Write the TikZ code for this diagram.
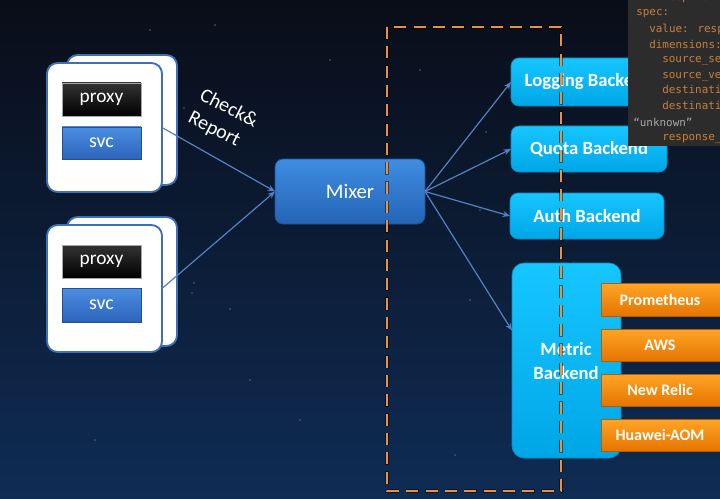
\documentclass[tikz,border=0pt]{standalone}
\usepackage{fontspec}
\setmainfont{Carlito}
\newfontfamily\codefont{DejaVu Sans Mono}
\usetikzlibrary{fit,arrows.meta,calc}
\definecolor{bgtop}{HTML}{090D18}
\definecolor{bgbot}{HTML}{0F2C54}
\definecolor{cardline}{HTML}{3D70B8}
\definecolor{svctop}{HTML}{4C8EE2}
\definecolor{svcbot}{HTML}{2C64BA}
\definecolor{mixtop}{HTML}{3F8DE2}
\definecolor{mixbot}{HTML}{2464B6}
\definecolor{cyantop}{HTML}{16C6FF}
\definecolor{cyanbot}{HTML}{00A6E6}
\definecolor{orgtop}{HTML}{FFA526}
\definecolor{orgbot}{HTML}{E57400}
\definecolor{dashcol}{HTML}{F0913A}
\definecolor{arrowcol}{HTML}{5282C4}
\definecolor{panelcol}{HTML}{2C2C2C}
\definecolor{codecol}{HTML}{C8803C}
\definecolor{codegray}{HTML}{A8A8A8}
\definecolor{starcol}{HTML}{56627A}
\begin{document}
\begin{tikzpicture}[x=0.75pt,y=-0.75pt,
  fitbox/.style={inner sep=0pt,outer sep=0pt},
  card/.style={fitbox,draw=cardline,line width=1.4pt,fill=white,rounded corners=8pt},
  proxybox/.style={fitbox,draw=gray!70,line width=0.6pt,top color=black!80,bottom color=black},
  svcbox/.style={fitbox,draw=svcbot!80!black,line width=0.6pt,top color=svctop,bottom color=svcbot},
  mixerbox/.style={fitbox,draw=mixbot!80!black,line width=0.6pt,top color=mixtop,bottom color=mixbot,rounded corners=6pt},
  backbox/.style={fitbox,top color=cyantop,bottom color=cyanbot,draw=cyanbot!85!black,line width=0.5pt,rounded corners=6pt},
  metricbox/.style={backbox,rounded corners=9pt},
  orangebox/.style={fitbox,top color=orgtop,bottom color=orgbot,draw=orgbot!80!black,line width=0.5pt},
  wtext/.style={inner sep=0pt,text=white},
  proxytext/.style={wtext,font=\fontsize{14.5}{17}\selectfont},
  svctext/.style={wtext,font=\fontsize{15}{17}\selectfont},
  mixertext/.style={wtext,font=\fontsize{15.5}{18}\selectfont},
  backtext/.style={wtext,align=center,font=\bfseries\fontsize{14}{17.5}\selectfont},
  orgtext/.style={wtext,font=\bfseries\fontsize{12}{14}\selectfont},
  conn/.style={draw=arrowcol,line width=0.9pt,-{Stealth[length=5.5pt,width=4.5pt]}},
  dashbox/.style={draw=dashcol,line width=2.2pt,dash pattern=on 9pt off 5.5pt},
  codeline/.style={anchor=west,inner sep=0pt,text=codecol,font=\codefont\fontsize{8.2}{10}\selectfont},
  star/.style={fill=starcol}
]
\useasboundingbox (0,0) rectangle (720,499);
\shade[top color=bgtop,bottom color=bgbot] (0,0) rectangle (720,499);
% stars
\foreach \sx/\sy in {184/108,486/132,194/283,192/293,230/309,420/70,300/420,470/300,150/30,330/60,250/380,95/440,455/455,215/25,480/210}
  \fill[star] (\sx,\sy) circle (0.7pt);

% pod 1
\node[card,fit={(67,55)(177,185)}] (pod1b) {};
\node[card,fit={(47,63)(162,192)}] (pod1) {};
\node[proxybox,fit={(62,83)(141,116)}] (proxy1) {};
\node[proxytext] (tproxy1) at (proxy1.center) {proxy};
\node[svcbox,fit={(62,127)(141,159)}] (svc1) {};
\node[svctext] (tsvc1) at (svc1.center) {svc};
% pod 2
\node[card,fit={(67,217)(177,346)}] (pod2b) {};
\node[card,fit={(47,225)(162,352)}] (pod2) {};
\node[proxybox,fit={(62,245)(141,278)}] (proxy2) {};
\node[proxytext] (tproxy2) at (proxy2.center) {proxy};
\node[svcbox,fit={(62,288)(141,322)}] (svc2) {};
\node[svctext] (tsvc2) at (svc2.center) {svc};

% label
\node[rotate=-27,align=left,text=white,inner sep=0pt,font=\fontsize{15}{19}\selectfont] (lbl) at (223,120) {Check\&\\Report};

% mixer
\node[mixerbox,fit={(275,159)(425,224)}] (mixer) {};
\node[mixertext] (tmixer) at (mixer.center) {Mixer};

% backends
\node[backbox,fit={(511,58)(667,106)}] (logging) {};
\node[backtext] (tlogging) at (logging.center) {Logging Backend};
\node[backbox,fit={(511,126)(667,172)}] (quota) {};
\node[backtext] (tquota) at (quota.center) {Quota Backend};
\node[backbox,fit={(510,193)(664,239)}] (auth) {};
\node[backtext] (tauth) at (auth.center) {Auth Backend};
\node[metricbox,fit={(512,263)(621,458)}] (metric) {};
\node[backtext] (tmetric) at (566,361) {Metric\\Backend};

\node[orangebox,fit={(601,283)(730,316)}] (prom) {};
\node[orangebox,fit={(601,329)(730,361)}] (aws) {};
\node[orangebox,fit={(601,374)(730,406)}] (newrelic) {};
\node[orangebox,fit={(601,419)(730,451)}] (aom) {};
\node[orgtext] (tprom) at (660,299.5) {Prometheus};
\node[orgtext] (taws) at (660,345) {AWS};
\node[orgtext] (tnr) at (660,390) {New Relic};
\node[orgtext] (taom) at (660,435) {Huawei-AOM};

% connectors
\draw[conn] (pod1.east) -- (mixer.west);
\draw[conn] (pod2.east) -- (mixer.west);
\draw[conn] (mixer.east) -- (logging.west);
\draw[conn] (mixer.east) -- (quota.west);
\draw[conn] (mixer.east) -- (auth.west);
\draw[conn] (mixer.east) -- ([yshift=22.5pt]metric.west);

% dashed boundary
\draw[black,opacity=0.45,line width=3.4pt,dash pattern=on 9.6pt off 4.9pt,dash phase=0.3pt] (387,27) rectangle (561,491);
\draw[dashbox] (387,27) rectangle (561,491);

% code panel
\fill[panelcol] (628,-5) rectangle (730,146);
\begin{scope}
\clip (628,0) rectangle (720,146);
\node[codeline] (c0) at (649,-1.5) {namespace:};
\node[codeline] (c1) at (636,14) {spec:};
\node[codeline] (c2) at (649,29) {value: response};
\node[codeline] (c3) at (649,44.5) {dimensions:};
\node[codeline] (c4) at (662,60) {source\_service:};
\node[codeline] (c5) at (662,75.5) {source\_version:};
\node[codeline] (c6) at (662,91) {destination\_service:};
\node[codeline] (c7) at (662,106.5) {destination\_version:};
\node[codeline,text=codegray] (c8) at (633,122) {“unknown”};
\node[codeline] (c9) at (662,137.5) {response\_code:};
\end{scope}
\end{tikzpicture}
\end{document}
